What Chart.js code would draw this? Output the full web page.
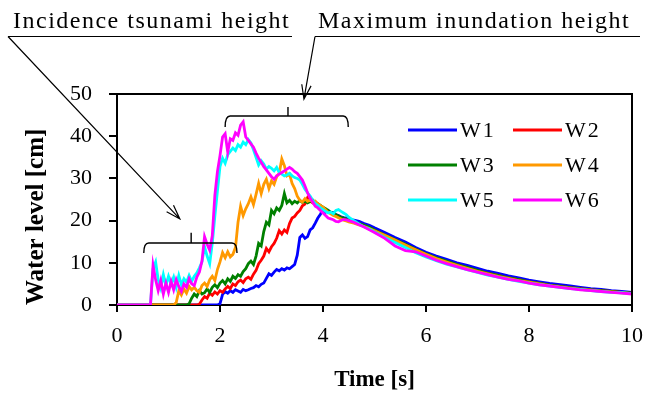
<!DOCTYPE html>
<html>
<head>
<meta charset="utf-8">
<script src="https://cdn.jsdelivr.net/npm/chart.js@4.4.0/dist/chart.umd.min.js"></script>
<style>
  body { margin: 0; background: #fff; }
</style>
</head>
<body>
<canvas id="mycanvas" width="646" height="399"></canvas>
<script>
// time [s] - fine steps where the wave comes in, coarser on the decay
var time = [0, 0.6, 0.65, 0.7, 0.75, 0.8, 0.85, 0.9, 0.95, 1.0,
  1.05, 1.1, 1.15, 1.2, 1.25, 1.3, 1.35, 1.4, 1.45, 1.5,
  1.55, 1.6, 1.65, 1.7, 1.75, 1.8, 1.85, 1.9, 1.95, 2.0,
  2.05, 2.1, 2.15, 2.2, 2.25, 2.3, 2.35, 2.4, 2.45, 2.5,
  2.55, 2.6, 2.65, 2.7, 2.75, 2.8, 2.85, 2.9, 2.95, 3.0,
  3.05, 3.1, 3.15, 3.2, 3.25, 3.3, 3.35, 3.4, 3.45, 3.5,
  3.55, 3.6, 3.65, 3.7, 3.75, 3.8, 3.85, 3.9, 3.95, 4.0,
  4.05, 4.1, 4.15, 4.2, 4.25, 4.3, 4.35, 4.4, 4.45, 4.5,
  4.6, 4.7, 4.8, 4.9, 5.0, 5.2, 5.4, 5.6, 5.8, 6.0,
  6.2, 6.4, 6.6, 6.8, 7.0, 7.2, 7.4, 7.6, 7.8, 8.0,
  8.2, 8.4, 8.6, 8.8, 9.0, 9.2, 9.4, 9.6, 9.8, 10.0];

// water level [cm] per gauge
var w1 = [0, 0, 0, 0, 0, 0, 0, 0, 0, 0,
  0, 0, 0, 0, 0, 0, 0, 0, 0, 0,
  0, 0, 0, 0, 0, 0, 0, 0, 0, 0.3,
  2.5, 3.2, 2.8, 3.4, 3.0, 3.6, 3.3, 3.0, 3.7, 3.4,
  3.6, 3.9, 4.1, 4.6, 4.3, 4.9, 5.2, 6.3, 7.4, 7.0,
  7.8, 8.4, 8.1, 8.6, 8.3, 8.8, 8.6, 9.1, 9.6, 11.8,
  16.0, 16.6, 15.8, 16.2, 17.8, 18.3, 19.4, 20.6, 21.5, 22.8,
  22.0, 22.4, 21.8, 21.9, 21.4, 21.2, 20.9, 20.7, 20.6, 20.3,
  20.1, 19.8, 19.3, 18.9, 18.3, 17.2, 16.0, 14.9, 13.6, 12.5,
  11.6, 10.8, 10.0, 9.4, 8.7, 8.0, 7.5, 6.9, 6.4, 5.9,
  5.5, 5.1, 4.8, 4.5, 4.2, 3.9, 3.7, 3.4, 3.2, 3.0];
var w2 = [0, 0, 0, 0, 0, 0, 0, 0, 0, 0,
  0, 0, 0, 0, 0, 0, 0, 0, 0, 0,
  0, 0.2, 1.2, 2.0, 1.6, 2.8, 2.3, 3.1, 2.6, 3.4,
  3.0, 3.8, 4.4, 3.9, 5.0, 4.6, 5.5, 5.9, 5.3, 6.2,
  6.6, 6.1, 7.3, 8.2, 9.8, 10.6, 11.6, 13.4, 12.6, 13.8,
  14.6, 15.8, 17.6, 16.8, 17.8, 17.2, 19.3, 20.6, 21.0, 21.8,
  22.4, 23.5, 23.9, 25.4, 24.6, 24.2, 23.8, 23.5, 23.3, 23.0,
  22.5, 22.1, 21.8, 21.6, 21.3, 21.0, 20.7, 20.5, 20.3, 20.0,
  19.6, 19.3, 18.8, 18.3, 17.7, 16.5, 15.3, 14.2, 13.0, 12.0,
  11.1, 10.2, 9.5, 8.8, 8.1, 7.5, 7.0, 6.4, 6.0, 5.5,
  5.1, 4.7, 4.4, 4.1, 3.9, 3.6, 3.4, 3.2, 3.0, 2.8];
var w3 = [0, 0, 0, 0, 0, 0, 0, 0, 0, 0,
  0, 0, 0, 0, 0, 0, 0, 0.3, 1.6, 2.6,
  2.0, 3.4, 2.6, 2.9, 3.8, 3.0, 4.2, 4.8, 4.1, 5.2,
  5.8, 5.0, 6.2, 5.6, 6.8, 6.3, 7.2, 6.8, 7.9, 8.6,
  9.8, 10.4, 9.6, 11.6, 14.6, 14.0, 17.4, 19.6, 19.0, 22.4,
  21.6, 23.0, 22.4, 23.6, 26.4, 24.2, 24.8, 24.0, 24.6, 24.2,
  24.8, 24.3, 24.6, 24.2, 24.5, 24.9, 24.3, 24.0, 23.6, 23.2,
  22.8, 22.4, 22.0, 21.7, 21.4, 21.1, 20.8, 20.6, 20.3, 20.1,
  19.7, 19.3, 18.9, 18.4, 17.8, 16.6, 15.5, 14.4, 13.2, 12.1,
  11.2, 10.4, 9.6, 8.9, 8.2, 7.5, 7.0, 6.4, 6.0, 5.5,
  5.1, 4.7, 4.4, 4.1, 3.8, 3.6, 3.4, 3.2, 3.0, 2.8];
var w4 = [0, 0, 0, 0, 0, 0, 0, 0, 0, 0,
  0, 0, 0.6, 3.4, 2.4, 3.8, 2.8, 4.4, 3.6, 4.2,
  3.4, 3.0, 4.6, 5.2, 4.4, 6.0, 6.8, 5.8, 8.4, 10.2,
  12.4, 11.2, 12.6, 11.4, 12.0, 13.6, 19.6, 23.4, 21.2, 22.8,
  24.0, 25.6, 23.8, 26.2, 28.8, 26.4, 28.6, 29.8, 27.6, 29.4,
  28.6, 30.4, 31.2, 34.6, 33.0, 30.6, 31.0, 28.8, 27.6, 25.8,
  24.8, 24.4, 25.2, 24.6, 24.9, 24.4, 24.6, 24.0, 23.6, 23.2,
  22.6, 22.0, 21.6, 21.2, 21.0, 20.7, 20.4, 20.1, 19.9, 19.7,
  19.4, 19.0, 18.6, 18.1, 17.6, 16.5, 15.4, 14.2, 13.1, 12.0,
  11.0, 10.2, 9.4, 8.7, 8.0, 7.4, 6.8, 6.3, 5.8, 5.4,
  5.0, 4.6, 4.3, 4.0, 3.7, 3.5, 3.3, 3.1, 2.9, 2.7];
var w5 = [0, 0, 0, 8.6, 10.2, 6.0, 4.0, 7.2, 4.6, 6.8,
  5.0, 6.6, 4.2, 7.0, 4.8, 6.2, 5.4, 7.0, 5.6, 6.8,
  7.6, 8.8, 10.2, 13.8, 11.6, 9.8, 14.6, 21.0, 27.0, 32.8,
  34.8, 33.6, 35.6, 36.4, 37.2, 36.6, 38.0, 37.4, 38.6, 38.0,
  39.2, 38.4, 36.8, 35.0, 33.2, 34.2, 33.4, 32.2, 32.8, 32.4,
  31.8, 32.6, 31.4, 31.0, 30.6, 30.8, 31.2, 30.6, 30.2, 30.0,
  29.6, 28.6, 27.4, 26.6, 25.8, 24.8, 24.0, 23.6, 23.0, 22.6,
  22.2, 21.8, 22.0, 21.6, 22.4, 22.6, 22.2, 21.8, 21.4, 20.8,
  20.0, 19.2, 18.5, 18.0, 17.3, 16.0, 14.8, 13.6, 12.4, 11.4,
  10.5, 9.7, 9.0, 8.4, 7.7, 7.1, 6.6, 6.1, 5.6, 5.2,
  4.8, 4.5, 4.2, 3.9, 3.7, 3.4, 3.2, 3.0, 2.9, 2.7];
var w6 = [0, 0, 0, 9.4, 6.0, 3.4, 5.8, 2.6, 5.2, 3.0,
  5.6, 3.6, 6.0, 4.4, 3.2, 5.0, 4.2, 6.2, 5.0, 4.6,
  6.6, 7.8, 10.4, 16.2, 14.4, 13.0, 16.4, 26.0, 31.6, 35.4,
  39.8, 40.6, 36.2, 39.4, 39.0, 40.8, 40.2, 42.6, 43.4, 39.8,
  39.0, 38.2, 37.4, 36.0, 34.8, 33.8, 32.8, 32.0, 31.2, 30.4,
  29.8, 30.6, 31.0, 31.4, 31.8, 32.2, 32.6, 32.2, 31.6, 31.2,
  30.4, 29.6, 28.2, 26.6, 25.3, 24.4, 23.4, 23.0, 22.4, 21.8,
  21.2, 20.6, 20.4, 20.2, 19.8, 19.7, 20.0, 20.3, 20.2, 20.0,
  19.6, 19.0, 18.5, 17.8, 17.2, 15.8, 14.0, 12.9, 12.6, 11.6,
  10.6, 9.8, 9.1, 8.4, 7.8, 7.2, 6.6, 6.1, 5.7, 5.2,
  4.8, 4.5, 4.2, 3.9, 3.6, 3.4, 3.2, 3.0, 2.8, 2.6];

var seriesNames = ['W1', 'W2', 'W3', 'W4', 'W5', 'W6'];
var seriesValues = [w1, w2, w3, w4, w5, w6];
var seriesColors = ['#0000ff', '#ff0000', '#008000', '#ff9900', '#00ffff', '#ff00ff'];
var xTicks = [0, 2, 4, 6, 8, 10];
var yTicks = [0, 10, 20, 30, 40, 50];

Chart.defaults.font.family = "'Liberation Serif', 'Times New Roman', serif";
Chart.defaults.color = '#000';

var datasets = [];
for (var s = 0; s < seriesNames.length; s++) {
  var pts = [];
  for (var i = 0; i < time.length; i++) {
    pts.push({x: time[i], y: seriesValues[s][i]});
  }
  datasets.push({
    label: seriesNames[s],
    data: pts,
    borderColor: seriesColors[s],
    backgroundColor: seriesColors[s],
    borderWidth: 2.8,
    pointRadius: 0,
    tension: 0,
    order: seriesNames.length - s   // later gauges on top, like the original
  });
}

function bracket(ctx, xs, ys, t1, t2, lev, drop, mid, rise) {
  var x1 = xs.getPixelForValue(t1), x2 = xs.getPixelForValue(t2);
  var y = ys.getPixelForValue(lev), yEnd = ys.getPixelForValue(lev - drop);
  var xm = xs.getPixelForValue(mid), yTop = ys.getPixelForValue(lev + rise);
  ctx.beginPath();
  ctx.moveTo(x1, yEnd);
  ctx.quadraticCurveTo(x1, y, x1 + 5, y);
  ctx.lineTo(x2 - 5, y);
  ctx.quadraticCurveTo(x2, y, x2, yEnd);
  ctx.moveTo(xm, y);
  ctx.lineTo(xm, yTop);
  ctx.stroke();
}

function arrow(ctx, fx, fy, tx, ty) {
  var ang = Math.atan2(ty - fy, tx - fx);
  ctx.beginPath();
  ctx.moveTo(fx, fy);
  ctx.lineTo(tx, ty);
  ctx.moveTo(tx - 15 * Math.cos(ang - 0.32), ty - 15 * Math.sin(ang - 0.32));
  ctx.lineTo(tx, ty);
  ctx.lineTo(tx - 15 * Math.cos(ang + 0.32), ty - 15 * Math.sin(ang + 0.32));
  ctx.stroke();
}

// frame, legend in the plot and the two call-outs
var notes = {
  id: 'notes',
  afterDraw: function(chart) {
    var ctx = chart.ctx, a = chart.chartArea;
    var xs = chart.scales.x, ys = chart.scales.y;
    ctx.save();
    ctx.strokeStyle = '#000';
    ctx.lineWidth = 2;
    ctx.beginPath();
    ctx.moveTo(a.left, a.top);
    ctx.lineTo(a.right, a.top);
    ctx.lineTo(a.right, a.bottom);
    ctx.stroke();

    // legend, two columns
    ctx.font = "22px 'Liberation Serif'";
    ctx.textBaseline = 'middle';
    ctx.letterSpacing = '2px';
    chart.data.datasets.forEach(function(ds, k) {
      var col = k % 2, row = Math.floor(k / 2);
      var lx = a.right - 224 + col * 105;
      var ly = a.top + 36 + row * 35;
      ctx.strokeStyle = ds.borderColor;
      ctx.lineWidth = 3;
      ctx.beginPath();
      ctx.moveTo(lx, ly);
      ctx.lineTo(lx + 49, ly);
      ctx.stroke();
      ctx.fillStyle = '#000';
      ctx.fillText(ds.label, lx + 52, ly + 1);
    });

    ctx.strokeStyle = '#000';
    ctx.lineWidth = 1.4;
    bracket(ctx, xs, ys, 0.52, 2.33, 14.7, 2.4, 1.44, 2.4);
    bracket(ctx, xs, ys, 2.1, 4.49, 44.8, 2.6, 3.32, 2.1);

    ctx.font = "24px 'Liberation Serif'";
    ctx.letterSpacing = '1.5px';
    ctx.textBaseline = 'alphabetic';
    ctx.fillText('Incidence tsunami height', 13, 28);
    ctx.fillText('Maximum inundation height', 318, 28);
    ctx.lineWidth = 1.2;
    ctx.beginPath();
    ctx.moveTo(8, 36.5); ctx.lineTo(292, 36.5);
    ctx.moveTo(315, 36.5); ctx.lineTo(640, 36.5);
    ctx.stroke();
    arrow(ctx, 8, 36.5, xs.getPixelForValue(1.22), ys.getPixelForValue(20.4));
    arrow(ctx, 315, 36.5, xs.getPixelForValue(3.63), ys.getPixelForValue(48.8));
    ctx.restore();
  }
};

var ctx = document.getElementById('mycanvas');
var chart = new Chart(ctx, {
  type: 'line',
  data: { datasets: datasets },
  options: {
    responsive: false,
    animation: false,
    layout: { padding: { top: 94, right: 14, left: 0, bottom: 0 } },
    plugins: { legend: { display: false }, tooltip: { enabled: false } },
    scales: {
      x: {
        type: 'linear',
        min: xTicks[0],
        max: xTicks[xTicks.length - 1],
        afterFit: function(s) { s.height = 94; s.paddingLeft = 0; s.paddingRight = 0; },
        afterBuildTicks: function(s) { s.ticks = xTicks.map(function(v) { return {value: v}; }); },
        ticks: { padding: 11, maxRotation: 0, font: { size: 22 } },
        grid: { drawOnChartArea: false, tickLength: 7, color: '#000', lineWidth: 2 },
        border: { color: '#000', width: 2 },
        title: { display: true, text: 'Time [s]', font: { size: 23, weight: 'bold' }, padding: { top: 0, bottom: 5 } }
      },
      y: {
        min: yTicks[0],
        max: yTicks[yTicks.length - 1],
        afterFit: function(s) { s.width = 117; },
        afterBuildTicks: function(s) { s.ticks = yTicks.map(function(v) { return {value: v}; }); },
        ticks: { padding: 17, font: { size: 22 } },
        grid: { drawOnChartArea: false, tickLength: 8, color: '#000', lineWidth: 2 },
        border: { color: '#000', width: 2 },
        title: { display: true, text: 'Water level [cm]', align: 'start', font: { size: 25, weight: 'bold' }, padding: { top: 22, bottom: 0 } }
      }
    }
  },
  plugins: [notes]
});
</script>
</body>
</html>
